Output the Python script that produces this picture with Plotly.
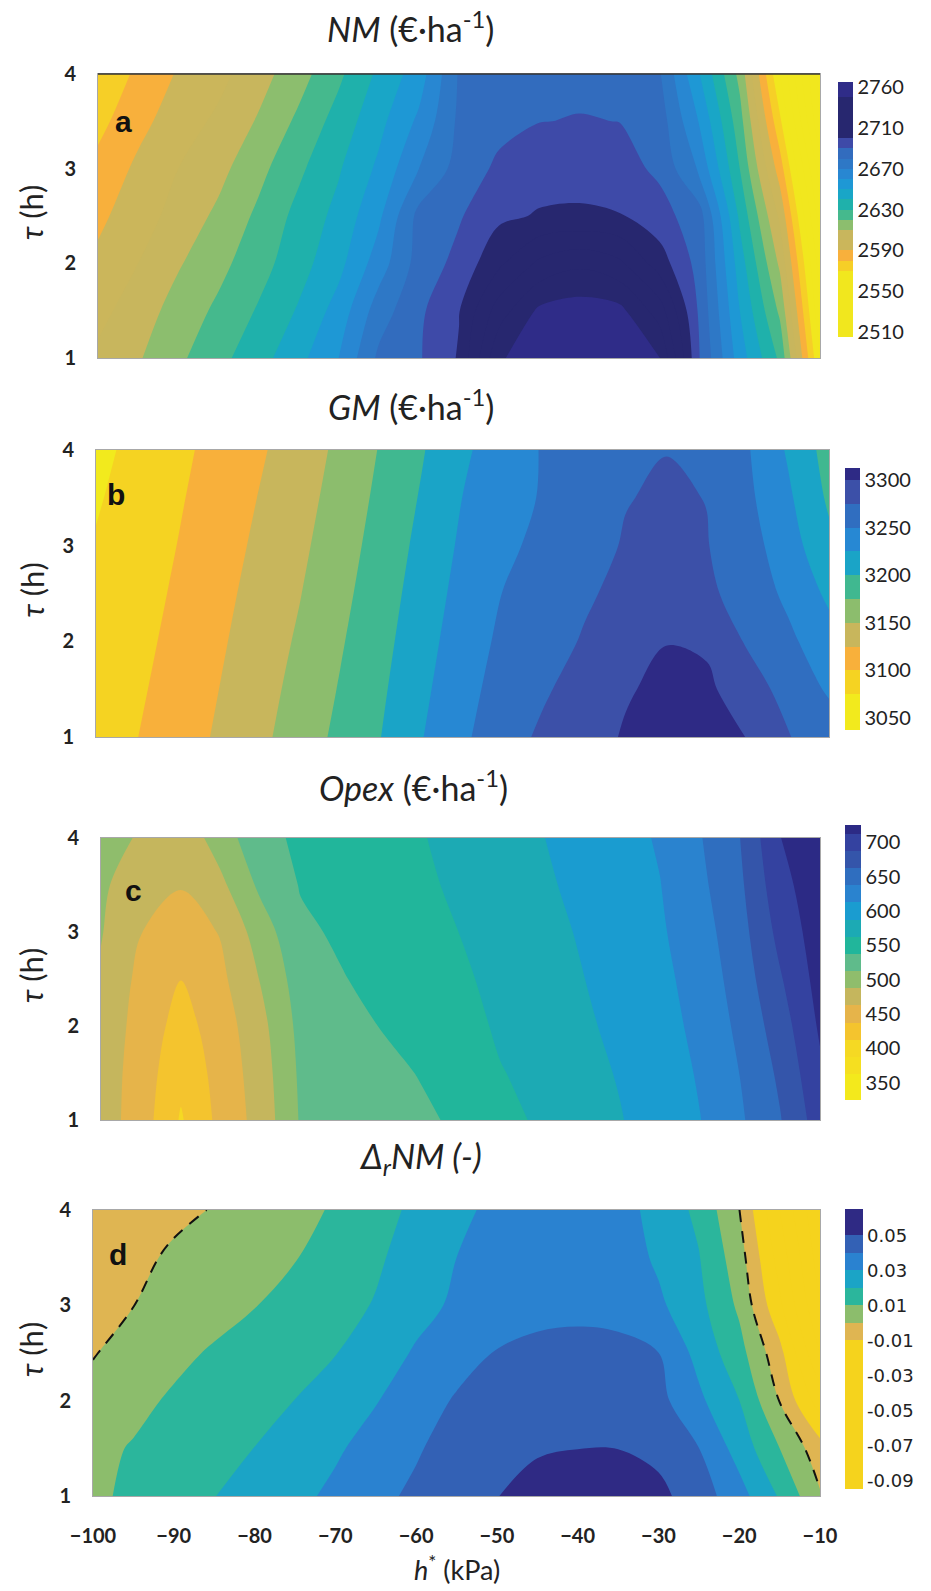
import plotly.graph_objects as go

# ---------------- data ----------------
H_KPA = [-100, -95, -90, -85, -80, -75, -70, -65, -60, -55, -50, -45, -40, -35, -30, -25, -20, -15, -10]
TAU_H = [1, 1.5, 2, 2.5, 3, 3.5, 4]

# NM (EUR/ha), rows = TAU_H, columns = H_KPA
NM = [
    [2602, 2609, 2618, 2627, 2636, 2647, 2660, 2682, 2689, 2701, 2739, 2745, 2750, 2746, 2740.5, 2690, 2655, 2628, 2560],
    [2597, 2605, 2614, 2622, 2631, 2641, 2654, 2675, 2688, 2699.5, 2725, 2742, 2745, 2743, 2725, 2688, 2650, 2618, 2552],
    [2592, 2600, 2609, 2617, 2626, 2636, 2647, 2665, 2684, 2693, 2708, 2722, 2728, 2722, 2705, 2686, 2645, 2608, 2545],
    [2588, 2595, 2604, 2612, 2622, 2633, 2643, 2658, 2683, 2689, 2698, 2700.8, 2701.5, 2700.6, 2694, 2684, 2638, 2598, 2535],
    [2583, 2592, 2600, 2607, 2617, 2628, 2639, 2652, 2670, 2684, 2692, 2696, 2696, 2694, 2688, 2668, 2630, 2585, 2525],
    [2577, 2587, 2595, 2602, 2611, 2622, 2634, 2647, 2662, 2682, 2687, 2689.8, 2690.4, 2689.9, 2685, 2659, 2624, 2572, 2511],
    [2572, 2582, 2591, 2597, 2606, 2616, 2628, 2642, 2655, 2681, 2684, 2687, 2688, 2686, 2681, 2650, 2617, 2560, 2505],
]

# GM (EUR/ha)
GM = [
    [3085, 3099.5, 3113, 3128, 3144, 3162, 3181, 3200, 3224, 3246, 3264, 3280, 3291, 3302, 3310, 3308, 3299.5, 3276, 3262],
    [3083.5, 3096.3, 3109.8, 3124.7, 3140.3, 3157.7, 3176.8, 3196.2, 3219.7, 3241.8, 3259.5, 3272, 3286, 3298, 3305, 3304, 3288, 3265, 3247],
    [3082, 3093, 3106.7, 3121.3, 3136.7, 3153.3, 3172.7, 3192.3, 3215.3, 3237.7, 3255, 3266, 3277, 3288, 3299.5, 3297, 3272, 3255, 3235],
    [3080, 3089.8, 3103.5, 3118, 3133, 3149, 3168.5, 3188.5, 3211, 3233.5, 3250.5, 3260, 3272, 3281, 3285, 3280, 3264, 3245, 3220],
    [3076.5, 3086.5, 3100.3, 3114.7, 3129.3, 3144.7, 3164.3, 3184.7, 3206.7, 3229.3, 3246, 3255, 3268, 3276.5, 3281, 3276, 3260, 3236, 3206],
    [3073, 3083.3, 3097.2, 3111.3, 3125.7, 3140.3, 3160.2, 3180.8, 3202.3, 3225.2, 3241.5, 3252, 3265, 3274.2, 3277.5, 3274.6, 3255, 3229, 3196],
    [3070, 3080, 3094, 3108, 3122, 3136, 3156, 3177, 3198, 3221, 3237, 3252, 3262, 3271, 3274.6, 3269, 3252, 3222, 3190],
]

# Opex (EUR/ha)
OPEX = [
    [475, 450, 410, 445, 472, 515, 524, 528, 534, 541, 555, 566, 578, 586.5, 597, 612, 634, 661, 700],
    [476, 451, 419, 447, 475, 517, 527, 532, 538.5, 546, 561, 571, 581, 589, 600, 615, 638, 667, 708],
    [479, 453, 428, 450, 480, 520, 531, 538, 545, 551, 567, 575, 584, 592, 603, 619, 643, 675, 716],
    [484, 456, 437.8, 457, 489, 525, 536, 544, 551, 557, 572, 578, 586.5, 595, 606, 623, 648, 685, 722],
    [489, 463, 450, 464, 500, 533, 541, 548, 555, 563, 576, 581, 589, 598, 609.5, 627, 653, 695, 726],
    [492, 472, 464, 482, 518, 539, 544, 551, 558, 567, 580, 584, 592, 601, 612, 632, 658, 704, 729],
    [497, 485, 470, 500, 530, 542, 548, 554, 561, 570, 583, 586.5, 595, 604, 615, 636, 662.5, 712, 731],
]

# Delta_r NM (-)
DRNM = [
    [0.008, 0.0121, 0.0160, 0.0198, 0.0237, 0.0276, 0.032, 0.0373, 0.042, 0.0459, 0.0498, 0.053, 0.0555, 0.0555, 0.0525, 0.045, 0.0338, 0.019, 0.001],
    [0.0075, 0.0107, 0.0138, 0.0169, 0.0201, 0.0243, 0.0287, 0.0337, 0.0389, 0.0445, 0.0475, 0.0492, 0.0499, 0.0499, 0.0475, 0.0401, 0.026, 0.010, -0.006],
    [0.003, 0.0075, 0.0113, 0.0142, 0.0171, 0.0201, 0.0248, 0.0295, 0.0352, 0.041, 0.044, 0.0455, 0.046, 0.0455, 0.043, 0.032, 0.0201, -0.0003, -0.025],
    [-0.0005, 0.0035, 0.0076, 0.0111, 0.014, 0.0169, 0.0197, 0.0253, 0.031, 0.036, 0.0405, 0.042, 0.0425, 0.042, 0.0401, 0.0268, 0.0136, -0.0068, -0.04],
    [-0.0025, -0.0001, 0.0031, 0.0064, 0.0097, 0.0132, 0.0168, 0.0206, 0.0269, 0.0315, 0.035, 0.0375, 0.038, 0.0375, 0.0318, 0.0228, 0.0082, -0.018, -0.05],
    [-0.0035, -0.0015, 0.0009, 0.0038, 0.0067, 0.0096, 0.014, 0.0186, 0.0241, 0.030, 0.0335, 0.0358, 0.0365, 0.0355, 0.0284, 0.0205, 0.0044, -0.024, -0.055],
    [-0.004, -0.0026, -0.0013, 0.0003, 0.0037, 0.0072, 0.011, 0.0164, 0.022, 0.028, 0.032, 0.035, 0.036, 0.034, 0.0266, 0.0177, 0.0002, -0.03, -0.06],
]

# colorbar tick labels
NM_TICKS = [2510, 2550, 2590, 2630, 2670, 2710, 2750]
NM_TICKTEXT = ["2510", "2550", "2590", "2630", "2670", "2710", "2760"]
GM_TICKS = [3050, 3100, 3150, 3200, 3250, 3300]
OPEX_TICKS = [350, 400, 450, 500, 550, 600, 650, 700]
DRNM_TICKS = [0.05, 0.03, 0.01, -0.01, -0.03, -0.05, -0.07, -0.09]
DRNM_TICKTEXT = ["0.05", "0.03", "0.01", "-0.01", "-0.03", "-0.05", "-0.07", "-0.09"]
X_TICKS = [-100, -90, -80, -70, -60, -50, -40, -30, -20, -10]

# ---------------- band colours (below-first-level ... above-last-level) ----------------
Y1 = "#f1e71e"
NV = "#27276f"
NM_COLORS = [Y1, Y1, Y1, Y1, Y1, Y1, Y1, "#f6cf27", "#f8b03c", "#cbb65b", "#c8b65d", "#8cbe6e",
             "#45b98d", "#1fb1ab", "#19a6c7", "#1e98d5", "#2887d2", "#2e78c6", "#326cbe", "#3e4aa8",
             NV, NV, NV, NV, "#2f2c88", "#2f2c88"]
GM_COLORS = ["#f2ea1d", "#f2ea1d", "#f5d322", "#f8b03b", "#c8b65c", "#8cbd6d", "#40b890",
             "#1aa4c7", "#2788d3", "#306ec0", "#3c50a8", "#2e2a85"]
OPEX_COLORS = ["#f3e91c", "#f3e91c", "#f5df20", "#f5d923", "#f4c42e", "#e6b44a", "#c5b65d",
               "#8fbd6c", "#5fbb8b", "#21b69b", "#1caab4", "#1a9cd0", "#2a83cf", "#2f6ebf",
               "#3455aa", "#3442a0", "#2c2a85"]
YD = "#f5d31d"
DRNM_COLORS = [YD, YD, YD, YD, YD, YD, YD, YD, YD, "#dfb552", "#8cbd6c", "#2bb69c", "#1ba4c6",
               "#2a82d0", "#3361b5", "#2f2a84", "#2f2a84"]

W, H = 931, 1591
PANELS = {  # plot-area pixel boxes: x0, x1, y0(top), y1(bottom)
    1: (98, 820, 74, 358),
    2: (96, 829, 450, 737),
    3: (101, 820, 838, 1120),
    4: (93, 820, 1210, 1496),
}

TICK_FAMILY = "Lato"
TEXT_FAMILY = "Lato"


def discrete(colors):
    n = len(colors) - 1
    return [[i / n, c] for i, c in enumerate(colors)]


def cbar(x_px, top_px, bot_px, thick, tickvals, ticktext, font):
    return dict(x=x_px / W, xanchor="left", xpad=0, y=1 - top_px / H, yanchor="top", ypad=0,
                len=(bot_px - top_px) / H, lenmode="fraction", thickness=thick,
                outlinewidth=0, ticks="", tickvals=tickvals, ticktext=ticktext,
                tickfont=font)


cb_font = dict(family=TEXT_FAMILY, size=20, color="#222")
fig = go.Figure()

fig.add_trace(go.Contour(
    x=H_KPA, y=TAU_H, z=NM, xaxis="x", yaxis="y", autocontour=False,
    contours=dict(start=2510, end=2750, size=10, coloring="fill", showlines=False),
    colorscale=discrete(NM_COLORS), line=dict(width=0, smoothing=1.0), hoverinfo="skip",
    colorbar=cbar(838, 82, 337, 15, NM_TICKS, NM_TICKTEXT, cb_font)))

fig.add_trace(go.Contour(
    x=H_KPA, y=TAU_H, z=GM, xaxis="x2", yaxis="y2", autocontour=False,
    contours=dict(start=3050, end=3300, size=25, coloring="fill", showlines=False),
    colorscale=discrete(GM_COLORS), line=dict(width=0, smoothing=1.0), hoverinfo="skip",
    colorbar=cbar(845, 468, 730, 15, GM_TICKS, [str(v) for v in GM_TICKS], cb_font)))

fig.add_trace(go.Contour(
    x=H_KPA, y=TAU_H, z=OPEX, xaxis="x3", yaxis="y3", autocontour=False,
    contours=dict(start=337.5, end=712.5, size=25, coloring="fill", showlines=False),
    colorscale=discrete(OPEX_COLORS), line=dict(width=0, smoothing=1.0), hoverinfo="skip",
    colorbar=cbar(845, 825, 1100, 16, OPEX_TICKS, [str(v) for v in OPEX_TICKS], cb_font)))

fig.add_trace(go.Contour(
    x=H_KPA, y=TAU_H, z=DRNM, xaxis="x4", yaxis="y4", autocontour=False,
    contours=dict(start=-0.09, end=0.06, size=0.01, coloring="fill", showlines=False),
    colorscale=discrete(DRNM_COLORS), line=dict(width=0, smoothing=1.0), hoverinfo="skip",
    colorbar=cbar(845, 1209, 1489, 18, DRNM_TICKS, DRNM_TICKTEXT,
                  dict(family="DejaVu Sans", size=18, color="#222"))))

fig.add_trace(go.Contour(
    x=H_KPA, y=TAU_H, z=DRNM, xaxis="x4", yaxis="y4", autocontour=False,
    contours=dict(start=0, end=0, size=0.01, coloring="none"),
    line=dict(color="#111", width=2, dash="12px,9px", smoothing=1.0),
    showscale=False, hoverinfo="skip"))

layout = dict(width=W, height=H, margin=dict(l=0, r=0, t=0, b=0, autoexpand=False),
              paper_bgcolor="white", plot_bgcolor="white", showlegend=False,
              font=dict(family=TEXT_FAMILY, color="#222"))

for i, (x0, x1, y0, y1) in PANELS.items():
    sx = "" if i == 1 else str(i)
    layout["xaxis" + sx] = dict(
        domain=[x0 / W, x1 / W], range=[-100, -10], anchor="y" + sx, automargin=False,
        showgrid=False, zeroline=False, showline=True, mirror=True,
        linecolor="#a8a8a8", linewidth=1,
        tickvals=X_TICKS, showticklabels=(i == 4),
        ticks="outside" if i == 4 else "", ticklen=22, tickcolor="rgba(0,0,0,0)",
        tickfont=dict(family=TICK_FAMILY, size=20, color="#222", weight="bold"))
    layout["yaxis" + sx] = dict(
        domain=[1 - y1 / H, 1 - y0 / H], range=[1, 4], anchor="x" + sx, automargin=False,
        showgrid=False, zeroline=False, showline=True, mirror=True,
        linecolor="#a8a8a8", linewidth=1,
        tickvals=[1, 2, 3, 4], ticks="outside", ticklen=17, tickcolor="rgba(0,0,0,0)",
        tickfont=dict(family=TICK_FAMILY, size=20, color="#222", weight="bold"))

annotations = []
TITLES = [
    ("<i>NM</i> (€·ha<sup>-1</sup>)", 410, 27),
    ("<i>GM</i> (€·ha<sup>-1</sup>)", 411, 405),
    ("<i>Opex</i> (€·ha<sup>-1</sup>)", 413, 786),
    ("<i>Δ<sub>r</sub>NM (-)</i>", 420, 1158),
]
for txt, xp, yp in TITLES:
    annotations.append(dict(text=txt, x=xp / W, y=1 - yp / H, xref="paper", yref="paper",
                            xanchor="center", yanchor="middle", showarrow=False,
                            font=dict(family=TEXT_FAMILY, size=34, color="#222")))

LETTERS = [("a", 123, 121), ("b", 116, 494), ("c", 133, 890), ("d", 118, 1254)]
for txt, xp, yp in LETTERS:
    annotations.append(dict(text="<b>" + txt + "</b>", x=xp / W, y=1 - yp / H, xref="paper",
                            yref="paper", xanchor="center", yanchor="middle", showarrow=False,
                            font=dict(family="Liberation Sans", size=30, color="#111")))

for i, (x0, x1, y0, y1) in PANELS.items():
    annotations.append(dict(text="<i>τ</i> (h)", x=31 / W, y=1 - ((y0 + y1) / 2 - 4) / H,
                            xref="paper", yref="paper", xanchor="center", yanchor="middle",
                            textangle=-90, showarrow=False,
                            font=dict(family=TEXT_FAMILY, size=31, color="#222")))

annotations.append(dict(text="<i>h</i><sup>*</sup> (kPa)", x=457 / W, y=1 - 1568 / H,
                        xref="paper", yref="paper", xanchor="center", yanchor="middle",
                        showarrow=False, font=dict(family=TEXT_FAMILY, size=27, color="#222")))

layout["annotations"] = annotations
# dark frame line along the top of panel a
layout["shapes"] = [dict(type="line", xref="paper", yref="paper",
                         x0=98 / W, x1=820 / W, y0=1 - 74 / H, y1=1 - 74 / H,
                         line=dict(color="#333", width=1.5))]

fig.update_layout(**layout)
fig.write_html("out.html")
